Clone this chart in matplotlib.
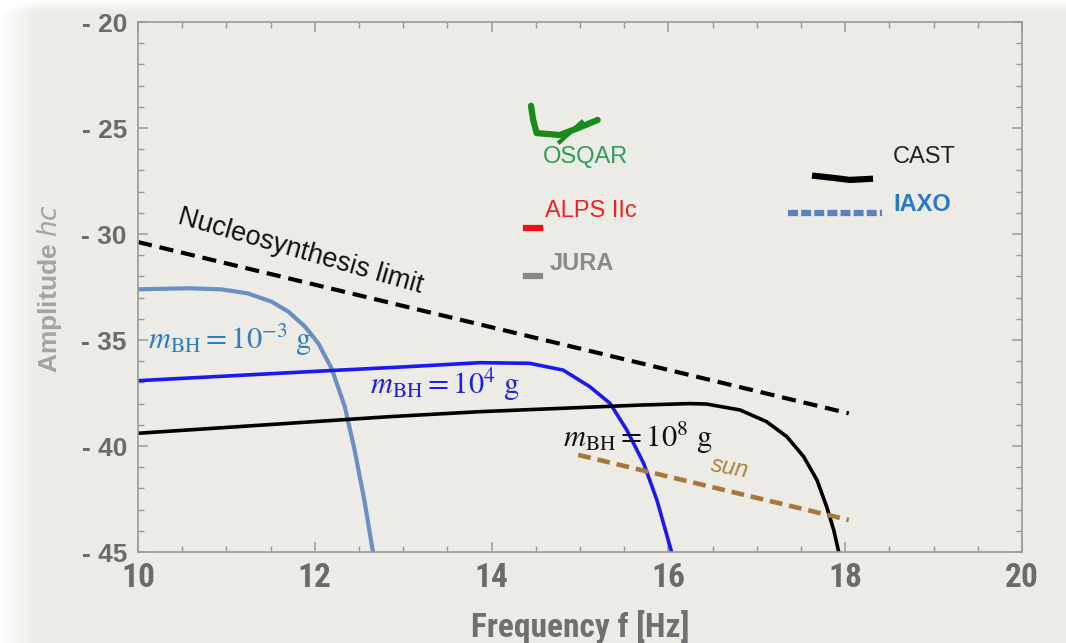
import numpy as np
import matplotlib
matplotlib.use("Agg")
import matplotlib.pyplot as plt
from matplotlib.ticker import MultipleLocator, FuncFormatter

plt.rcParams['mathtext.fontset'] = 'stix'

# curves
x_small = [10, 10.57, 10.94, 11.24, 11.51, 11.70, 11.89, 12.04, 12.19, 12.34, 12.45, 12.56, 12.66]
y_small = [-32.61, -32.56, -32.61, -32.8, -33.19, -33.66, -34.37, -35.16, -36.34, -38.15, -40.19, -42.55, -45.05]

x_mid = [10, 11, 12, 13, 13.87, 14.43, 14.81, 15.11, 15.34, 15.53, 15.72, 15.87, 16.04]
y_mid = [-36.92, -36.7, -36.48, -36.27, -36.07, -36.10, -36.42, -37.2, -37.99, -39.25, -40.82, -42.55, -45.06]

x_big = [10, 12.83, 13.87, 15.68, 16.24, 16.43, 16.81, 17.11, 17.34, 17.53, 17.68, 17.79, 17.87, 17.93]
y_big = [-39.40, -38.62, -38.38, -38.07, -38.0, -38.02, -38.30, -38.85, -39.56, -40.50, -41.60, -42.86, -43.96, -45.06]

nucleo_x = [10, 18.04]
nucleo_y = [-30.38, -38.46]

sun_x = [14.98, 18.04]
sun_y = [-40.42, -43.49]

osqar_x = [14.446, 14.47, 14.51, 14.77, 14.98, 15.20]
osqar_y = [-23.95, -24.62, -25.24, -25.33, -25.0, -24.62]
osqar_branch_x = [14.77, 15.02]
osqar_branch_y = [-25.66, -24.72]

cast_x = [17.66, 17.88, 18.05, 18.28]
cast_y = [-27.26, -27.36, -27.45, -27.40]

iaxo_x = [17.35, 18.42]
iaxo_y = [-29.0, -29.0]

alps_x = [14.39, 14.55]
alps_y = [-29.72, -29.72]

jura_x = [14.39, 14.55]
jura_y = [-31.98, -31.98]

bg = '#ecebe5'
narrow = ['Roboto Condensed', 'DejaVu Sans Condensed', 'Liberation Sans Narrow',
          'Liberation Sans']

fig = plt.figure(figsize=(10.66, 6.43), dpi=100)
fig.patch.set_facecolor(bg)

# soft white fade at the left/top edges of the screenshot
bgax = fig.add_axes([0, 0, 1, 1], zorder=-5)
h, w = 643, 1066
xx = np.arange(w)[None, :]
yy = np.arange(h)[:, None]
fade = np.clip(1 - xx / 45.0, 0, 1) ** 1.5 + np.clip(1 - yy / 14.0, 0, 1) ** 1.5
fade = np.clip(fade, 0, 1)
base = np.array([0xec, 0xeb, 0xe5]) / 255.0
img = base[None, None, :] * (1 - fade[..., None]) + fade[..., None]
bgax.imshow(img, aspect='auto', extent=[0, 1, 0, 1])
bgax.axis('off')

ax = fig.add_axes([138 / 1066, 1 - 552 / 643, 884 / 1066, 530 / 643])
ax.set_facecolor(bg)

ax.plot(x_small, y_small, color='#6b8fc2', lw=3.0, solid_joinstyle='round')
ax.plot(x_mid, y_mid, color='#1a1aee', lw=2.6, solid_joinstyle='round')
ax.plot(x_big, y_big, color='black', lw=2.6, solid_joinstyle='round')
ax.plot(nucleo_x, nucleo_y, color='black', lw=3.0, dashes=(3.4, 1.9))
ax.plot(sun_x, sun_y, color='#a8783a', lw=3.3, dashes=(2.8, 1.5))
ax.plot(osqar_x, osqar_y, color='#1a8a1a', lw=4.5, solid_capstyle='round')
ax.plot(osqar_branch_x, osqar_branch_y, color='#1a8a1a', lw=3)
ax.plot(cast_x, cast_y, color='black', lw=4.5)
ax.plot(iaxo_x, iaxo_y, color='#5b82c0', lw=4.5, dashes=(1.6, 0.5))
ax.plot(alps_x, alps_y, color='#ee1111', lw=4.5)
ax.plot(jura_x, jura_y, color='#888888', lw=4.5)

ax.text(11.84, -30.8, 'Nucleosynthesis limit', fontsize=19.5, rotation=-16,
        ha='center', va='center', color='#111111', family='Liberation Sans')
ax.text(10.11, -35.0, r'$m_{\mathrm{BH}} = 10^{-3}\ \mathrm{g}$', fontsize=22,
        color='#2f7cc0', ha='left', va='center')
ax.text(12.62, -37.1, r'$m_{\mathrm{BH}} = 10^{4}\ \mathrm{g}$', fontsize=22,
        color='#2020e0', ha='left', va='center')
ax.text(14.81, -39.6, r'$m_{\mathrm{BH}} = 10^{8}\ \mathrm{g}$', fontsize=22,
        color='#111111', ha='left', va='center')
ax.text(16.70, -41.04, 'sun', fontsize=17, style='italic', rotation=-10,
        color='#a8843c', ha='center', va='center', family='Liberation Sans')

ax.text(14.58, -26.37, 'OSQAR', fontsize=17, color='#2e9d58', ha='left', va='center',
        family='Liberation Sans')
ax.text(14.60, -28.9, 'ALPS IIc', fontsize=17, color='#ee2222', ha='left', va='center',
        family='Liberation Sans')
ax.text(14.66, -31.37, 'JURA', fontsize=17, color='#8a8a8a', ha='left', va='center',
        weight='bold', family='Liberation Sans')
ax.text(18.54, -26.37, 'CAST', fontsize=17, color='#222222', ha='left', va='center',
        family='Liberation Sans')
ax.text(18.55, -28.6, 'IAXO', fontsize=17, color='#2a78c8', ha='left', va='center',
        weight='bold', family='Liberation Sans')

ax.set_xlim(10, 20)
ax.set_ylim(-45, -20)
ax.xaxis.set_major_locator(MultipleLocator(2))
ax.xaxis.set_minor_locator(MultipleLocator(0.5))
ax.yaxis.set_major_locator(MultipleLocator(5))
ax.yaxis.set_minor_locator(MultipleLocator(1))
ax.yaxis.set_major_formatter(FuncFormatter(lambda v, p: f"- {abs(int(round(v)))}"))
ax.tick_params(which='both', direction='in', top=True, right=True, color='#999999')
ax.tick_params(which='major', length=7, width=1.1)
ax.tick_params(which='minor', length=4.5, width=1.0)
ax.tick_params(axis='y', labelsize=19, labelcolor='#6b6b6b', pad=8)
ax.tick_params(axis='x', labelsize=24, labelcolor='#6b6b6b', pad=7)
for lab in ax.get_yticklabels():
    lab.set_family('Liberation Sans')
    lab.set_weight('bold')
for lab in ax.get_xticklabels():
    lab.set_family(narrow)
    lab.set_weight('bold')
for sp in ax.spines.values():
    sp.set_color('#9a9a9a')
    sp.set_linewidth(1.2)

fig.text(580 / 1066, 1 - 627 / 643, 'Frequency f [Hz]', fontsize=24, color='#707070',
         weight='bold', ha='center', va='center', family=narrow)
fig.text(50 / 1066, 1 - 288 / 643, r'Amplitude $\mathit{hc}$', fontsize=19, color='#a4a4a4',
         weight='bold', rotation=90, ha='center', va='center', family='Liberation Sans',
         math_fontfamily='dejavusans')

fig.savefig('out.png', dpi=100, facecolor=fig.get_facecolor())
